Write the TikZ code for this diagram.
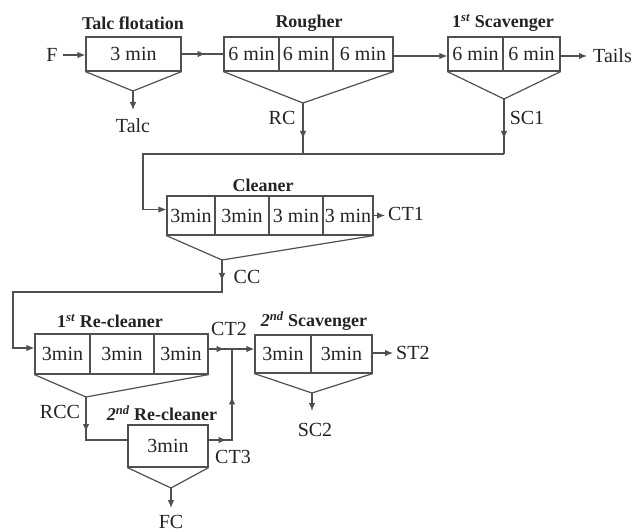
\documentclass[tikz,border=0pt]{standalone}
\usepackage{fontspec}
\setmainfont{Liberation Serif}
\usetikzlibrary{arrows.meta,decorations.markings}
\definecolor{lineC}{RGB}{80,80,80}
\definecolor{txtC}{RGB}{35,35,35}
\begin{document}
\begin{tikzpicture}[x=1pt,y=-1pt,
  cell/.style={draw=lineC, line width=1.2pt, inner sep=0pt, text=txtC, font=\fontsize{20}{20}\selectfont},
  ttl/.style={text=txtC, font=\fontsize{18}{18}\selectfont\bfseries, inner sep=0pt},
  lbl/.style={text=txtC, font=\fontsize{20}{20}\selectfont, inner sep=0pt},
  ln/.style={draw=lineC, line width=1.2pt},
  arr/.style={ln, -{Latex[length=8pt,width=6.5pt]}},
  tipat/.style={postaction={decorate, decoration={markings, mark=at position #1 with {\arrow{Latex[length=8pt,width=6.5pt]}}}}},
]
\useasboundingbox (0,0) rectangle (633,532);

% ---------- cells ----------
\node[cell, minimum width=95pt, minimum height=34pt] (tf) at (133.5,54) {3 min};
\node[cell, minimum width=55pt, minimum height=34pt] (r1) at (251.5,54) {6 min};
\node[cell, minimum width=54pt, minimum height=34pt] (r2) at (306,54) {6 min};
\node[cell, minimum width=60pt, minimum height=34pt] (r3) at (363,54) {6 min};
\node[cell, minimum width=55pt, minimum height=34pt] (s1) at (475.5,54) {6 min};
\node[cell, minimum width=57pt, minimum height=34pt] (s2) at (531.5,54) {6 min};

\node[cell, minimum width=48pt, minimum height=39pt] (c1) at (191,215.5) {3min};
\node[cell, minimum width=54pt, minimum height=39pt] (c2) at (242,215.5) {3min};
\node[cell, minimum width=54pt, minimum height=39pt] (c3) at (296,215.5) {3 min};
\node[cell, minimum width=50pt, minimum height=39pt] (c4) at (348,215.5) {3 min};

\node[cell, minimum width=55pt, minimum height=40pt] (q1) at (62.5,354) {3min};
\node[cell, minimum width=64pt, minimum height=40pt] (q2) at (122,354) {3min};
\node[cell, minimum width=54pt, minimum height=40pt] (q3) at (181,354) {3min};

\node[cell, minimum width=80pt, minimum height=42pt] (t1) at (168,446) {3min};

\node[cell, minimum width=56pt, minimum height=38pt] (p1) at (283,354) {3min};
\node[cell, minimum width=61pt, minimum height=38pt] (p2) at (341.5,354) {3min};

% ---------- titles ----------
\node[ttl] (tTalc) at (133,23) {Talc flotation};
\node[ttl] (tRough) at (309,23) {Rougher};
\node[ttl] (tScav1) at (503,23) {1\textsuperscript{\textit{st}} Scavenger};
\node[ttl] (tClean) at (263,185) {Cleaner};
\node[ttl] (tRe1) at (110,321) {1\textsuperscript{\textit{st}} Re-cleaner};
\node[ttl] (tRe2) at (162,413) {\textit{2\textsuperscript{nd}} Re-cleaner};
\node[ttl] (tScav2) at (314,321) {\textit{2\textsuperscript{nd}} Scavenger};

% ---------- labels ----------
\node[lbl] (F) at (52,55) {F};
\node[lbl, anchor=north] (talc) at (133,118) {Talc};
\node[lbl, anchor=west] (tails) at (593,56) {Tails};
\node[lbl] (rc) at (282,118) {RC};
\node[lbl] (sc1) at (527,118) {SC1};
\node[lbl, anchor=west] (ct1) at (388,214) {CT1};
\node[lbl] (cc) at (247,277) {CC};
\node[lbl] (ct2) at (229,329) {CT2};
\node[lbl] (rcc) at (60,412) {RCC};
\node[lbl] (ct3) at (233,457) {CT3};
\node[lbl, anchor=north] (sc2) at (315,423) {SC2};
\node[lbl, anchor=west] (st2) at (396,353) {ST2};
\node[lbl, anchor=north] (fc) at (171,515) {FC};

% ---------- cone apexes and junctions ----------
\coordinate (tfA) at (133,91);
\coordinate (rA) at (303,103);
\coordinate (sA) at (504,99);
\coordinate (cA) at (222,260);
\coordinate (qA) at (86,397);
\coordinate (tA) at (171,488);
\coordinate (pA) at (312,393);
\coordinate (j1) at (303,154);
\coordinate (j2) at (504,154);
\coordinate (k1) at (143,154);
\coordinate (j3) at (222,292);
\coordinate (k2) at (13,292);
\coordinate (j4) at (232,349);

% ---------- cones ----------
\draw[ln] (tf.south west) -- (tfA) -- (tf.south east);
\draw[ln] (r1.south west) -- (rA) -- (r3.south east);
\draw[ln] (s1.south west) -- (sA) -- (s2.south east);
\draw[ln] (c1.south west) -- (cA) -- (c4.south east);
\draw[ln] (q1.south west) -- (qA) -- (q3.south east);
\draw[ln] (t1.south west) -- (tA) -- (t1.south east);
\draw[ln] (p1.south west) -- (pA) -- (p2.south east);

% ---------- connectors ----------
\draw[arr, shorten <=5pt] (F.east) -- (F.east -| tf.west);
\draw[ln, tipat=24pt] (tf.east) -- (r1.west);
\draw[arr] ([yshift=-2pt]r3.east) -- ([yshift=-2pt]s1.west);
\draw[arr, shorten >=6pt] ([yshift=-2pt]s2.east) -- (tails.west);
\draw[arr, shorten >=8pt] (tfA) -- (talc.north);

\draw[ln, tipat=36pt] (rA) -- (j1);
\draw[ln, tipat=40pt] (sA) -- (j2);
\draw[arr] (j2) -- (k1) |- ([yshift=6pt]c1.west);

\draw[arr, shorten >=3pt] (c4.east) -- (c4.east -| ct1.west);
\draw[arr, tipat=21pt] (cA) -- (j3) -- (k2) |- ([yshift=6pt]q1.west);

\draw[ln, tipat=35pt] (qA) |- ([yshift=6pt]t1.west);
\draw[arr, tipat=16pt] ([yshift=5pt]q3.east) -- ([yshift=5pt]p1.west);
\draw[ln, tipat=18pt, tipat=67pt] ([yshift=6pt]t1.east) -| (j4);

\draw[arr, shorten >=3pt] ([yshift=1pt]p2.east) -- ([yshift=1pt]p2.east -| st2.west);
\draw[arr, shorten >=12pt] (pA) -- (pA |- sc2.north);
\draw[arr, shorten >=7pt] (tA) -- (tA |- fc.north);
\end{tikzpicture}
\end{document}
